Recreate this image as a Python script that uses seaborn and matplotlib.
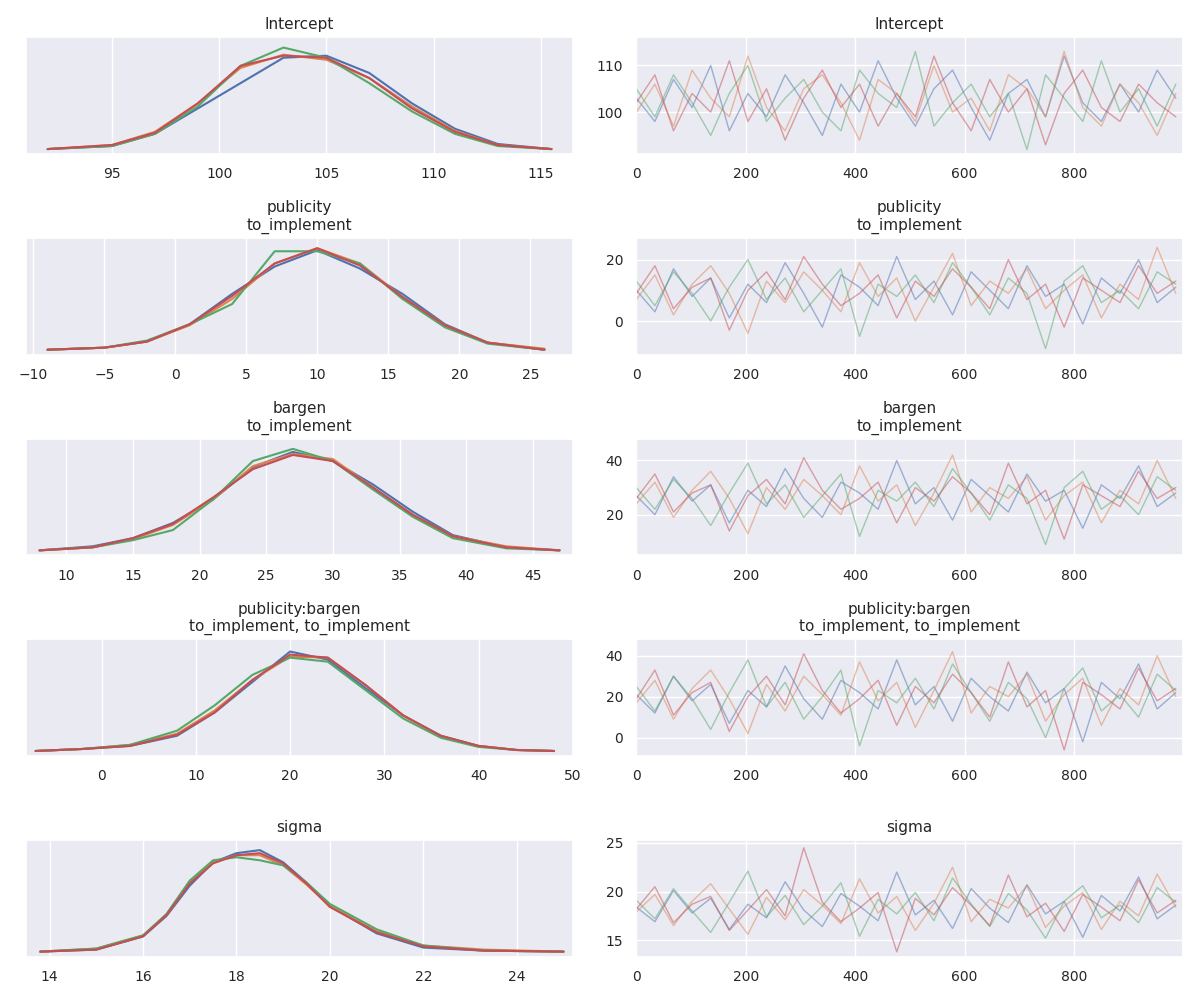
import numpy as np
import pandas as pd
import seaborn as sns
import matplotlib.pyplot as plt

sns.set_theme(style="darkgrid", font_scale=0.95)
colors = sns.color_palette("deep")[:4]

titles = ["Intercept", "publicity\nto_implement", "bargen\nto_implement",
          "publicity:bargen\nto_implement, to_implement", "sigma"]

# KDE curves (relative density, 4 chains)
kde_x_intercept = [92, 95, 97, 99, 101, 103, 105, 107, 109, 111, 113, 115.5]
kde_intercept = [
    [0.0, 0.03, 0.15, 0.40, 0.65, 0.90, 0.92, 0.75, 0.45, 0.20, 0.05, 0.0],
    [0.0, 0.04, 0.17, 0.45, 0.80, 0.93, 0.88, 0.70, 0.42, 0.18, 0.04, 0.0],
    [0.0, 0.03, 0.15, 0.42, 0.82, 1.00, 0.90, 0.65, 0.37, 0.15, 0.03, 0.0],
    [0.0, 0.04, 0.16, 0.45, 0.82, 0.92, 0.90, 0.70, 0.40, 0.17, 0.04, 0.0],
]
kde_x_publicity = [-9, -5, -2, 1, 4, 7, 10, 13, 16, 19, 22, 26]
kde_publicity = [
    [0.0, 0.02, 0.08, 0.25, 0.55, 0.82, 0.98, 0.80, 0.55, 0.25, 0.07, 0.0],
    [0.0, 0.02, 0.08, 0.24, 0.50, 0.85, 1.00, 0.85, 0.52, 0.24, 0.07, 0.01],
    [0.0, 0.02, 0.09, 0.25, 0.45, 0.97, 0.97, 0.85, 0.50, 0.22, 0.06, 0.0],
    [0.0, 0.02, 0.08, 0.25, 0.53, 0.85, 1.00, 0.83, 0.52, 0.24, 0.07, 0.0],
]
kde_x_bargen = [8, 12, 15, 18, 21, 24, 27, 30, 33, 36, 39, 43, 47]
kde_bargen = [
    [0.0, 0.04, 0.12, 0.27, 0.50, 0.82, 0.97, 0.88, 0.65, 0.38, 0.15, 0.03, 0.0],
    [0.0, 0.03, 0.11, 0.25, 0.50, 0.83, 0.95, 0.90, 0.62, 0.35, 0.14, 0.04, 0.0],
    [0.0, 0.03, 0.10, 0.20, 0.50, 0.88, 1.00, 0.88, 0.60, 0.33, 0.12, 0.02, 0.0],
    [0.0, 0.03, 0.12, 0.26, 0.52, 0.80, 0.94, 0.88, 0.62, 0.35, 0.14, 0.03, 0.0],
]
kde_x_inter = [-7, -2, 3, 8, 12, 16, 20, 24, 28, 32, 36, 40, 44, 48]
kde_inter = [
    [0.0, 0.02, 0.05, 0.15, 0.38, 0.68, 0.98, 0.90, 0.62, 0.35, 0.15, 0.05, 0.01, 0.0],
    [0.0, 0.02, 0.06, 0.17, 0.40, 0.70, 0.93, 0.92, 0.65, 0.35, 0.14, 0.05, 0.01, 0.0],
    [0.0, 0.02, 0.06, 0.20, 0.45, 0.75, 0.92, 0.88, 0.60, 0.32, 0.13, 0.04, 0.01, 0.0],
    [0.0, 0.02, 0.05, 0.16, 0.38, 0.70, 0.95, 0.92, 0.65, 0.35, 0.15, 0.05, 0.01, 0.0],
]
kde_x_sigma = [13.8, 15, 16, 16.5, 17, 17.5, 18, 18.5, 19, 19.5, 20, 21, 22, 23.3, 25]
kde_sigma = [
    [0.0, 0.02, 0.15, 0.35, 0.65, 0.88, 0.97, 1.00, 0.88, 0.68, 0.45, 0.18, 0.04, 0.01, 0.0],
    [0.0, 0.03, 0.16, 0.36, 0.68, 0.88, 0.95, 0.95, 0.85, 0.66, 0.45, 0.20, 0.06, 0.02, 0.0],
    [0.0, 0.03, 0.16, 0.37, 0.70, 0.90, 0.93, 0.90, 0.85, 0.68, 0.47, 0.22, 0.06, 0.01, 0.0],
    [0.0, 0.02, 0.15, 0.36, 0.67, 0.87, 0.95, 0.97, 0.87, 0.67, 0.44, 0.19, 0.05, 0.01, 0.0],
]

# trace values (every ~34th draw), 4 chains
trace_step = 34
trace_intercept = [
    [103, 98, 107, 101, 110, 96, 104, 99, 108, 102, 95, 106, 100, 111, 103, 97, 105, 109, 101, 94, 104, 107, 99, 112, 102, 98, 106, 100, 109, 103],
    [100, 106, 97, 109, 103, 99, 112, 101, 96, 105, 108, 102, 94, 107, 104, 98, 110, 100, 103, 96, 108, 105, 99, 113, 101, 97, 106, 102, 95, 104],
    [105, 99, 108, 102, 95, 104, 110, 98, 103, 107, 100, 96, 109, 104, 101, 113, 97, 102, 106, 99, 104, 92, 108, 103, 98, 111, 100, 105, 97, 106],
    [102, 108, 96, 104, 100, 111, 98, 105, 94, 103, 109, 101, 106, 97, 104, 99, 112, 102, 96, 107, 100, 105, 93, 104, 109, 101, 98, 106, 102, 99],
]
trace_publicity = [
    [10, 3, 17, 8, 14, 1, 12, 6, 19, 9, -2, 15, 11, 5, 21, 7, 13, 2, 16, 10, 4, 18, 8, 12, -1, 14, 9, 20, 6, 11],
    [7, 15, 2, 12, 18, 9, -4, 13, 6, 16, 10, 3, 19, 8, 14, 0, 11, 22, 5, 13, 9, 17, 4, 10, 15, 1, 12, 7, 24, 9],
    [13, 5, 16, 9, 0, 11, 20, 7, 14, 3, 10, 17, -5, 12, 8, 15, 6, 19, 11, 2, 14, 9, -9, 13, 18, 6, 10, 4, 16, 12],
    [9, 18, 4, 11, 14, -3, 10, 16, 7, 21, 12, 5, 9, 15, 1, 13, 8, 17, 11, 4, 20, 7, 12, -2, 14, 10, 6, 18, 9, 13],
]
trace_bargen = [
    [27, 20, 34, 25, 31, 17, 29, 23, 37, 26, 19, 32, 28, 22, 40, 24, 30, 18, 33, 27, 21, 35, 25, 29, 15, 31, 26, 38, 23, 28],
    [24, 32, 19, 29, 36, 26, 13, 30, 22, 33, 27, 20, 38, 25, 31, 16, 28, 42, 21, 30, 26, 34, 18, 27, 32, 17, 29, 24, 40, 26],
    [30, 22, 33, 26, 16, 28, 39, 24, 31, 19, 27, 35, 12, 29, 25, 32, 23, 37, 28, 18, 31, 26, 9, 30, 36, 22, 27, 20, 34, 29],
    [26, 35, 21, 28, 31, 14, 27, 33, 24, 41, 29, 22, 26, 32, 17, 30, 25, 34, 28, 20, 39, 24, 29, 11, 31, 27, 23, 36, 26, 30],
]
trace_inter = [
    [21, 12, 30, 18, 26, 7, 23, 15, 35, 19, 9, 28, 22, 14, 38, 16, 25, 8, 29, 20, 13, 32, 17, 24, -2, 27, 19, 36, 14, 22],
    [17, 28, 9, 24, 33, 19, 2, 26, 13, 30, 21, 11, 37, 18, 27, 5, 23, 42, 12, 25, 20, 31, 8, 21, 29, 6, 24, 16, 40, 20],
    [25, 13, 30, 19, 4, 22, 38, 15, 27, 9, 20, 33, -4, 23, 17, 29, 14, 36, 22, 8, 27, 19, 0, 24, 34, 13, 21, 10, 31, 23],
    [19, 33, 11, 22, 27, 3, 20, 30, 16, 41, 23, 12, 19, 28, 6, 25, 17, 31, 22, 10, 37, 15, 23, -6, 27, 21, 14, 34, 18, 24],
]
trace_sigma = [
    [18.4, 16.9, 20.1, 17.8, 19.3, 16.1, 18.7, 17.3, 21.0, 18.1, 16.4, 19.8, 18.5, 17.0, 22.0, 17.6, 19.1, 16.2, 20.3, 18.3, 16.8, 20.7, 17.7, 19.0, 15.3, 19.6, 18.0, 21.5, 17.2, 18.6],
    [17.9, 19.7, 16.5, 19.0, 20.8, 18.2, 15.6, 19.4, 17.1, 20.2, 18.6, 16.7, 21.3, 17.8, 19.5, 16.0, 18.8, 22.5, 16.9, 19.2, 18.3, 20.6, 16.3, 18.5, 19.9, 16.1, 19.0, 17.5, 21.8, 18.4],
    [19.1, 17.2, 20.3, 18.0, 15.8, 18.9, 22.1, 17.4, 19.6, 16.6, 18.5, 20.9, 15.4, 19.2, 17.7, 19.9, 17.0, 21.4, 18.7, 16.4, 19.8, 18.1, 15.2, 19.0, 20.6, 17.3, 18.6, 16.8, 20.4, 18.9],
    [18.2, 20.5, 16.8, 18.7, 19.5, 16.0, 18.1, 20.2, 17.5, 24.5, 18.9, 16.9, 18.3, 19.9, 13.8, 19.3, 17.6, 20.4, 18.6, 16.5, 21.7, 17.4, 18.8, 15.9, 19.7, 18.4, 17.0, 21.2, 17.8, 19.1],
]

kde_xs = [kde_x_intercept, kde_x_publicity, kde_x_bargen, kde_x_inter, kde_x_sigma]
kde_ys = [kde_intercept, kde_publicity, kde_bargen, kde_inter, kde_sigma]
traces = [trace_intercept, trace_publicity, trace_bargen, trace_inter, trace_sigma]
kde_xticks = [[95, 100, 105, 110, 115], [-10, -5, 0, 5, 10, 15, 20, 25],
              [10, 15, 20, 25, 30, 35, 40, 45], [0, 10, 20, 30, 40, 50],
              [14, 16, 18, 20, 22, 24]]
kde_xlims = [(91, 116.5), (-10.5, 28), (7, 48), (-8, 50), (13.5, 25.2)]
trace_yticks = [[100, 110], [0, 20], [20, 40], [0, 20, 40], [15, 20, 25]]
trace_ylims = [(91, 116), (-11, 27), (5, 48), (-9, 48), (13.3, 25.3)]

fig, axes = plt.subplots(5, 2, figsize=(12, 10.01), dpi=100)
for i in range(5):
    ax_k, ax_t = axes[i]
    for c in range(4):
        sns.lineplot(x=kde_xs[i], y=kde_ys[i][c], ax=ax_k, color=colors[c], lw=1.5)
        draws = np.arange(len(traces[i][c])) * trace_step
        sns.lineplot(x=draws, y=traces[i][c], ax=ax_t, color=colors[c], lw=1, alpha=0.5)
    ax_k.set_yticks([])
    ax_k.set_xticks(kde_xticks[i])
    ax_k.set_xlim(*kde_xlims[i])
    ax_k.set_ylim(-0.05, 1.1)
    ax_t.set_xlim(0, 999)
    ax_t.set_xticks([0, 200, 400, 600, 800])
    ax_t.set_yticks(trace_yticks[i])
    ax_t.set_ylim(*trace_ylims[i])
    for ax in (ax_k, ax_t):
        ax.set_title(titles[i], fontsize=11)
        ax.tick_params(labelsize=10)

fig.tight_layout(h_pad=1.2, w_pad=1.5)
fig.savefig("out.png")
